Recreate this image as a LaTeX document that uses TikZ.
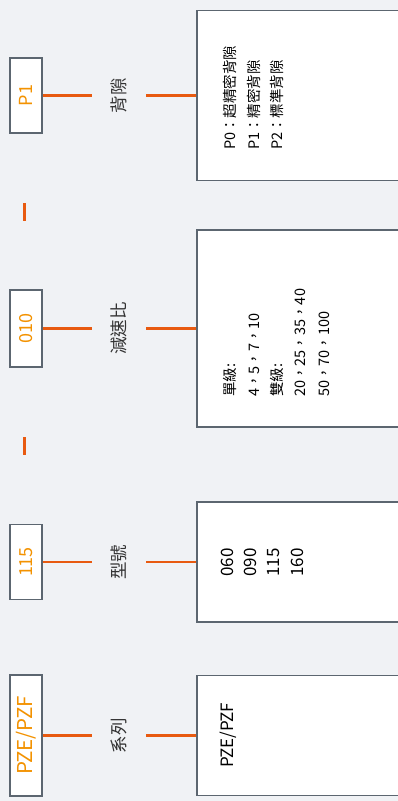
\documentclass[tikz,border=0pt]{standalone}
\usepackage{fontspec}
\setmainfont{Noto Sans CJK TC}
\usepackage{tikz}
\usetikzlibrary{positioning}
\definecolor{fondo}{HTML}{F0F2F5}
\definecolor{boxgray}{HTML}{5C6670}
\definecolor{linkorange}{HTML}{E85A10}
\definecolor{codeorange}{HTML}{F39200}
\definecolor{labelgray}{HTML}{333333}

\begin{document}
\begin{tikzpicture}[
  x=1pt, y=-1pt,
  codebox/.style={draw=boxgray, fill=white, line width=1.1pt, rotate=90,
                  minimum height=32pt, inner sep=0pt, text=codeorange,
                  font=\fontsize{18}{20}\selectfont},
  partlabel/.style={rotate=90, minimum height=54pt, inner sep=0pt,
                    text=labelgray, font=\fontsize{17.5}{19}\selectfont},
  optionbox/.style={draw=boxgray, fill=white, line width=1.1pt, rotate=90,
                    minimum height=205pt, inner sep=0pt},
  optiontext/.style={rotate=90, anchor=west, inner sep=0pt, align=left,
                     text=black},
  link/.style={linkorange, line width=2.8pt},
  sepdash/.style={linkorange, line width=3pt}
]
  \fill[fondo] (0,0) rectangle (398,801);
  \useasboundingbox (0,0) rectangle (398,801);

  % backlash
  \node[codebox, minimum width=75pt] (code1) at (26, 95.5) {P1};
  \node[partlabel] (lab1) at (119, 95.5) {背隙};
  \node[optionbox, minimum width=170pt] (box1) at (299.5, 95.5) {};
  \node[optiontext, font=\fontsize{14.5}{23.5}\selectfont] (txt1) at (253.5, 150)
    {P0：超精密背隙\\P1：精密背隙\\P2：標準背隙};

  % ratio
  \node[codebox, minimum width=77pt] (code2) at (26, 328.5) {010};
  \node[partlabel] (lab2) at (119, 328.5) {減速比};
  \node[optionbox, minimum width=197pt] (box2) at (299.5, 328.5) {};
  \node[optiontext, font=\fontsize{14.5}{23.3}\selectfont] (txt2) at (276.5, 397)
    {單級:\\4，5，7，10\\雙級:\\20，25，35，40\\50，70，100};

  % size
  \node[codebox, minimum width=75pt] (code3) at (26, 562) {115};
  \node[partlabel] (lab3) at (119, 562) {型號};
  \node[optionbox, minimum width=120pt] (box3) at (299.5, 562) {};
  \node[optiontext, font=\fontsize{17}{23.3}\selectfont] (txt3) at (262, 577)
    {060\\090\\115\\160};

  % series
  \node[codebox, minimum width=121pt, font=\fontsize{20.5}{22}\selectfont] (code4)
    at (26, 735.5) {PZE/PZF};
  \node[partlabel] (lab4) at (119, 735.5) {系列};
  \node[optionbox, minimum width=120pt] (box4) at (299.5, 735.5) {};
  \node[optiontext, font=\fontsize{17}{19}\selectfont] (txt4) at (228, 768) {PZE/PZF};

  \foreach \i in {1,...,4}{
    \draw[link] (code\i.south) -- (lab\i.north);
    \draw[link] (lab\i.south) -- (box\i.north);
  }

  \draw[sepdash] (24.5, 203) -- (24.5, 221);
  \draw[sepdash] (24.5, 437) -- (24.5, 455);
\end{tikzpicture}
\end{document}
